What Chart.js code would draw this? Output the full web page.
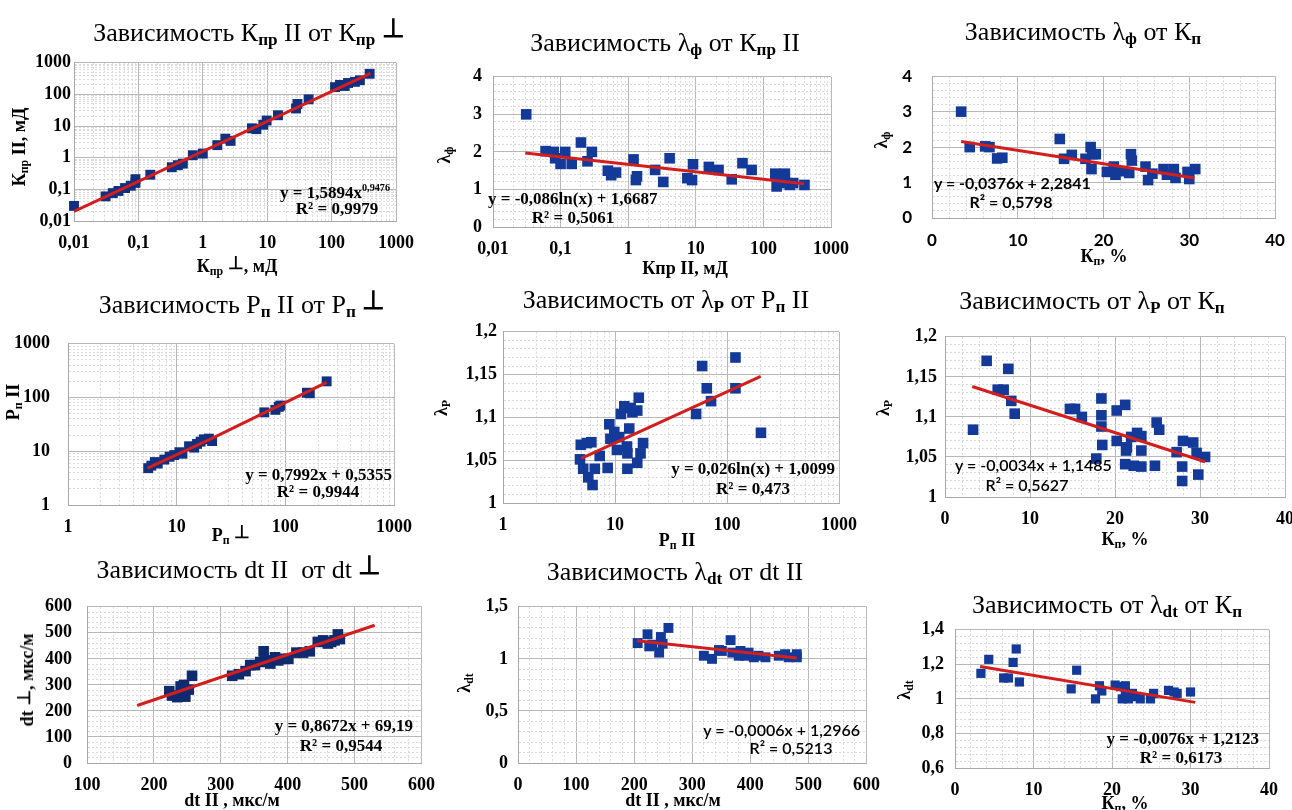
<!DOCTYPE html>
<html lang="ru">
<head>
<meta charset="utf-8">
<title>Зависимости</title>
<script src="https://cdn.jsdelivr.net/npm/chart.js@4.4.1/dist/chart.umd.min.js"></script>
<style>
    body { margin: 0; background: #fff; overflow: hidden; }
    #wrap { position: relative; width: 1292px; height: 810px; overflow: hidden; background: #fff; }
    .cbox { position: absolute; }
    .lbl { position: absolute; white-space: nowrap; color: #000; line-height: 1;
           font-family: "Liberation Serif", "Times New Roman", serif; }
    .title { font-size: 26px; }
    .title sub { font-weight: bold; }
    .ax { font-size: 18px; font-weight: bold; }
    .eq { font-size: 17px; font-weight: bold; }
    .sans { font-family: Lato, "Open Sans", sans-serif; font-size: 16px; }
    .med { font-weight: 600; }
    sub { font-size: 66%; vertical-align: -0.25em; }
    sup { font-size: 60%; vertical-align: 0.6em; }
    .tack { font-weight: bold; position: relative; top: -0.15em; }
</style>
</head>
<body>
<div id="wrap"></div>
<script>
// --- DATA ---

// 1. Кпр II от Кпр ⊥ (log-log)
const p1XTicks = [0.01, 0.1, 1, 10, 100, 1000];
const p1YTicks = [0.01, 0.1, 1, 10, 100, 1000];
const p1X = [0.01, 0.031, 0.04, 0.049, 0.062, 0.076, 0.09, 0.09, 0.153, 0.33, 0.41, 0.49, 0.7, 1.0, 1.68, 2.24, 2.7, 5.8, 6.8, 8.7, 9.8, 14.7, 28, 29.5, 44, 113, 135, 160, 180, 230, 275, 390];
const p1Y = [0.03, 0.06, 0.076, 0.089, 0.11, 0.13, 0.16, 0.21, 0.29, 0.5, 0.58, 0.65, 1.2, 1.35, 2.5, 4.0, 3.4, 8.5, 8.0, 11, 15, 22, 36, 50, 70, 170, 200, 185, 230, 250, 280, 450];
const p1TrendX = [0.01, 400];
const p1TrendY = [0.02, 464];

// 2. λф от Кпр II (log x)
const p2XTicks = [0.01, 0.1, 1, 10, 100, 1000];
const p2YTicks = [0, 1, 2, 3, 4];
const p2X = [0.031, 0.06, 0.079, 0.083, 0.1, 0.117, 0.146, 0.2, 0.25, 0.29, 0.5, 0.56, 0.66, 1.2, 1.3, 1.35, 2.5, 3.3, 4.1, 7.5, 8.8, 9.1, 15.6, 21.7, 34, 49, 67, 150, 157, 175, 208, 220, 246, 276, 405];
const p2Y = [3.0, 2.02, 2.0, 1.83, 1.68, 2.0, 1.68, 2.25, 1.75, 2.0, 1.5, 1.38, 1.45, 1.8, 1.25, 1.35, 1.52, 1.2, 1.83, 1.3, 1.25, 1.67, 1.6, 1.52, 1.27, 1.7, 1.52, 1.42, 1.08, 1.3, 1.42, 1.17, 1.12, 1.17, 1.12];
const p2TrendX = [0.03, 400];
const p2TrendY = [1.97, 1.15];

// 3. λф от Кп
const p3XTicks = [0, 10, 20, 30, 40];
const p3YTicks = [0, 1, 2, 3, 4];
const p3X = [3.4, 4.4, 6.2, 6.7, 7.6, 8.2, 14.9, 15.4, 16.3, 17.9, 18.5, 18.7, 18.6, 19.1, 20.4, 21.2, 21.4, 22.2, 23.2, 23.3, 23.0, 24.9, 25.2, 25.7, 27.0, 27.4, 28.2, 28.4, 29.8, 30.0, 30.7];
const p3Y = [3.0, 2.0, 2.02, 2.0, 1.68, 1.7, 2.23, 1.67, 1.78, 1.67, 2.0, 1.8, 1.38, 1.8, 1.3, 1.45, 1.22, 1.32, 1.8, 1.62, 1.27, 1.45, 1.07, 1.25, 1.38, 1.22, 1.38, 1.13, 1.3, 1.1, 1.38];
const p3TrendX = [3.4, 30.6];
const p3TrendY = [2.16, 1.13];

// 4. Pп II от Pп ⊥ (log-log)
const p4XTicks = [1, 10, 100, 1000];
const p4YTicks = [1, 10, 100, 1000];
const p4X = [5.47, 5.85, 6.3, 6.7, 7.7, 8.6, 9.5, 10.6, 11.3, 13.0, 14.5, 15.4, 16.6, 17.8, 19.8, 21.2, 64, 81, 87, 90, 158, 168, 240];
const p4Y = [4.85, 5.4, 6.3, 5.9, 7.0, 7.9, 8.5, 9.6, 9.0, 12.4, 11.7, 13.7, 15.1, 16.7, 17.2, 15.5, 53, 59, 67, 71, 123, 120, 200];
const p4TrendX = [5.4, 20, 240];
const p4TrendY = [4.85, 16.5, 192];

// 5. λp от Pп II (log x)
const p5XTicks = [1, 10, 100, 1000];
const p5YTicks = [1, 1.05, 1.1, 1.15, 1.2];
const p5X = [4.87, 4.95, 5.6, 6.15, 5.2, 5.77, 6.3, 6.6, 7.3, 8.6, 8.9, 9.1, 9.85, 10.4, 10.9, 11.3, 12.1, 12.8, 12.9, 13.4, 13.8, 14.3, 12.9, 15.8, 15.8, 16.3, 16.9, 17.8, 53, 60, 66, 72, 119, 119, 201];
const p5Y = [1.051, 1.068, 1.07, 1.071, 1.04, 1.03, 1.021, 1.04, 1.055, 1.041, 1.092, 1.075, 1.083, 1.062, 1.077, 1.104, 1.113, 1.066, 1.058, 1.087, 1.111, 1.106, 1.04, 1.108, 1.047, 1.123, 1.058, 1.07, 1.104, 1.16, 1.134, 1.119, 1.17, 1.134, 1.082];
const p5TrendX = [5, 200];
const p5TrendY = [1.052, 1.148];

// 6. λp от Кп
const p6XTicks = [0, 10, 20, 30, 40];
const p6YTicks = [1, 1.05, 1.1, 1.15, 1.2];
const p6X = [3.3, 4.9, 6.2, 6.9, 7.45, 7.8, 8.2, 14.7, 15.3, 16.1, 17.8, 18.4, 18.4, 18.4, 18.5, 20.2, 20.2, 21.2, 21.3, 21.4, 21.2, 21.9, 22.6, 23.1, 23.1, 22.2, 23.1, 24.9, 25.2, 24.7, 27.25, 28.0, 27.9, 27.9, 29.2, 29.6, 29.8, 30.6];
const p6Y = [1.084, 1.17, 1.134, 1.134, 1.16, 1.12, 1.104, 1.11, 1.11, 1.1, 1.048, 1.123, 1.102, 1.088, 1.065, 1.108, 1.07, 1.115, 1.058, 1.062, 1.041, 1.075, 1.08, 1.076, 1.058, 1.039, 1.038, 1.093, 1.084, 1.039, 1.056, 1.07, 1.038, 1.02, 1.068, 1.055, 1.028, 1.05];
const p6TrendX = [3.2, 30.6];
const p6TrendY = [1.138, 1.044];

// 7. dt II от dt ⊥
const p7XTicks = [100, 200, 300, 400, 500, 600];
const p7YTicks = [0, 100, 200, 300, 400, 500, 600];
const p7X = [223, 227, 235, 240, 243, 247, 252, 257, 245, 317, 327, 337, 344, 351, 359, 364, 366, 374, 381, 386, 394, 401, 413, 423, 433, 445, 453, 460, 465, 470, 475, 478];
const p7Y = [276, 259, 253, 294, 265, 255, 282, 335, 300, 335, 341, 353, 376, 376, 388, 429, 394, 382, 406, 394, 400, 400, 424, 424, 429, 465, 471, 459, 465, 471, 494, 476];
const p7TrendX = [175, 530];
const p7TrendY = [221, 529];

// 8. λdt от dt II
const p8XTicks = [0, 100, 200, 300, 400, 500, 600];
const p8YTicks = [0, 0.5, 1, 1.5];
const p8X = [206, 223, 226, 231, 243, 246, 249, 259, 320, 334, 346, 351, 366, 369, 380, 383, 391, 397, 406, 414, 426, 449, 460, 466, 480, 480];
const p8Y = [1.152, 1.236, 1.12, 1.136, 1.06, 1.21, 1.145, 1.297, 1.03, 1.0, 1.085, 1.076, 1.18, 1.06, 1.03, 1.076, 1.03, 1.06, 1.015, 1.03, 1.015, 1.03, 1.045, 1.015, 1.045, 1.015];
const p8TrendX = [205, 480];
const p8TrendY = [1.174, 1.009];

// 9. λdt от Кп
const p9XTicks = [0, 10, 20, 30, 40];
const p9YTicks = [0.6, 0.8, 1, 1.2, 1.4];
const p9X = [3.3, 4.3, 6.2, 6.8, 7.4, 7.8, 8.2, 14.8, 15.5, 17.9, 18.4, 18.7, 20.4, 21.1, 21.3, 21.7, 21.7, 22.1, 22.6, 23, 23.6, 24.9, 25.3, 27.2, 27.9, 28.3, 30.0];
const p9Y = [1.148, 1.229, 1.121, 1.121, 1.211, 1.289, 1.098, 1.058, 1.166, 1.0, 1.076, 1.046, 1.08, 1.071, 1.0, 1.076, 1.037, 1.0, 1.032, 1.013, 1.0, 1.0, 1.032, 1.049, 1.04, 1.032, 1.04];
const p9TrendX = [3.2, 30.6];
const p9TrendY = [1.188, 0.98];

// --- Layout constants ---
const SERIF = '"Liberation Serif", "Times New Roman", serif';
const SANS = 'Lato, "Open Sans", sans-serif';
const YW = 60, XH = 40, PT = 12, PR = 24;
const wrap = document.getElementById('wrap');

// panel: plot rect [left, top, right, bottom], axes, data, tick font, marker colour
const panels = [
    { rect: [74, 61, 402, 221], x: { log: true, ticks: p1XTicks }, y: { log: true, ticks: p1YTicks }, xs: p1X, ys: p1Y, tx: p1TrendX, ty: p1TrendY, ypad: 3, font: SERIF, fs: 18, mark: '#123080', r: 7 },
    { rect: [493, 67, 837, 227], x: { log: true, ticks: p2XTicks }, y: { ticks: p2YTicks }, xs: p2X, ys: p2Y, tx: p2TrendX, ty: p2TrendY, ypad: 11, font: SERIF, fs: 18, mark: '#133a98', r: 7.5 },
    { rect: [932, 58, 1275, 218], x: { ticks: p3XTicks }, y: { ticks: p3YTicks }, xs: p3X, ys: p3Y, tx: p3TrendX, ty: p3TrendY, ypad: 20, font: SANS, fs: 17, mark: '#133a98', r: 7.5 },
    { rect: [68, 327, 400, 505], x: { log: true, ticks: p4XTicks }, y: { log: true, ticks: p4YTicks }, xs: p4X, ys: p4Y, tx: p4TrendX, ty: p4TrendY, ypad: 18, font: SERIF, fs: 18, mark: '#123080', r: 7 },
    { rect: [503, 327, 845, 503], x: { log: true, ticks: p5XTicks }, y: { ticks: p5YTicks }, xs: p5X, ys: p5Y, tx: p5TrendX, ty: p5TrendY, ypad: 6, font: SERIF, fs: 18, mark: '#133a98', r: 7.5 },
    { rect: [945, 330, 1285, 497], x: { ticks: p6XTicks }, y: { ticks: p6YTicks }, xs: p6X, ys: p6Y, tx: p6TrendX, ty: p6TrendY, ypad: 8, font: SERIF, fs: 18, mark: '#133a98', r: 7.5 },
    { rect: [87, 593, 423, 763], x: { ticks: p7XTicks }, y: { ticks: p7YTicks }, xs: p7X, ys: p7Y, tx: p7TrendX, ty: p7TrendY, ypad: 15, font: SERIF, fs: 18, mark: '#102a70', r: 7.5 },
    { rect: [518, 598, 868, 763], x: { ticks: p8XTicks }, y: { ticks: p8YTicks }, xs: p8X, ys: p8Y, tx: p8TrendX, ty: p8TrendY, ypad: 10, font: SERIF, fs: 18, mark: '#133a98', r: 7 },
    { rect: [955, 620, 1269, 768], x: { ticks: p9XTicks }, y: { ticks: p9YTicks }, xs: p9X, ys: p9Y, tx: p9TrendX, ty: p9TrendY, ypad: 11, font: SERIF, fs: 18, mark: '#133a98', r: 6.5 }
];

// texts: [html, x, y, class, align]   align: l / c / r / v (vertical, centred)
const T = '<span class="tack">⊥</span>';
const texts = [
    ['Зависимость К<sub>пр</sub> II от К<sub>пр</sub> ' + T, 249, 34, 'title', 'c'],
    ['Зависимость λ<sub>ф</sub> от К<sub>пр</sub> II', 665, 44, 'title', 'c'],
    ['Зависимость λ<sub>ф</sub> от К<sub>п</sub>', 1083, 33, 'title', 'c'],
    ['Зависимость P<sub>п</sub> II от P<sub>п</sub> ' + T, 242, 306, 'title', 'c'],
    ['Зависимость от λ<sub>P</sub> от P<sub>п</sub> II', 666, 301, 'title', 'c'],
    ['Зависимость от λ<sub>P</sub> от К<sub>п</sub>', 1092, 302, 'title', 'c'],
    ['Зависимость dt II&nbsp; от dt ' + T, 239, 570, 'title', 'c'],
    ['Зависимость λ<sub>dt</sub> от dt II', 675, 573, 'title', 'c'],
    ['Зависимость от λ<sub>dt</sub> от К<sub>п</sub>', 1107, 606, 'title', 'c'],

    ['К<sub>пр</sub> ' + T + ', мД', 237, 267, 'ax', 'c'],
    ['Кпр II, мД', 685, 268, 'ax', 'c'],
    ['К<sub>п</sub>, %', 1104, 257, 'ax', 'c'],
    ['P<sub>п</sub> ' + T, 231, 536, 'ax', 'c'],
    ['P<sub>п</sub> II', 677, 541, 'ax', 'c'],
    ['К<sub>п</sub>, %', 1125, 540, 'ax', 'c'],
    ['dt II , мкс/м', 232, 800, 'ax', 'c'],
    ['dt II , мкс/м', 673, 800, 'ax', 'c'],
    ['К<sub>п</sub>, %', 1125, 804, 'ax', 'c'],

    ['К<sub>пр</sub> II, мД', 20, 147, 'ax', 'v'],
    ['λ<sub>ф</sub>', 445, 155, 'ax', 'v'],
    ['λ<sub>ф</sub>', 882, 140, 'ax', 'v'],
    ['P<sub>п</sub> II', 14, 402, 'ax', 'v'],
    ['λ<sub>P</sub>', 442, 408, 'ax', 'v'],
    ['λ<sub>P</sub>', 884, 408, 'ax', 'v'],
    ['dt ' + T + ', мкс/м', 27, 680, 'ax', 'v'],
    ['λ<sub>dt</sub>', 465, 683, 'ax', 'v'],
    ['λ<sub>dt</sub>', 905, 690, 'ax', 'v'],

    ['y = 1,5894x<sup>0,9476</sup>', 390, 192, 'eq', 'r'],
    ['R² = 0,9979', 337, 208, 'eq', 'c'],
    ['y = -0,086ln(x) + 1,6687', 488, 198, 'eq', 'l'],
    ['R² = 0,5061', 573, 217, 'eq', 'c'],
    ['y = -0,0376x + 2,2841', 934, 183, 'eq sans', 'l'],
    ['R² = 0,5798', 1011, 202, 'eq sans', 'c'],
    ['y = 0,7992x + 0,5355', 392, 474, 'eq', 'r'],
    ['R² = 0,9944', 318, 491, 'eq', 'c'],
    ['y = 0,026ln(x) + 1,0099', 835, 468, 'eq', 'r'],
    ['R² = 0,473', 753, 488, 'eq', 'c'],
    ['y = -0,0034x + 1,1485', 955, 465, 'eq sans med', 'l'],
    ['R² = 0,5627', 1027, 485, 'eq sans med', 'c'],
    ['y = 0,8672x + 69,19', 413, 725, 'eq', 'r'],
    ['R² = 0,9544', 341, 745, 'eq', 'c'],
    ['y = -0,0006x + 1,2966', 860, 730, 'eq sans med', 'r'],
    ['R² = 0,5213', 791, 748, 'eq sans med', 'c'],
    ['y = -0,0076x + 1,2123', 1259, 738, 'eq', 'r'],
    ['R² = 0,6173', 1181, 757, 'eq', 'c']
];

// --- Helpers ---
const fmt = v => String(Number(v.toPrecision(6))).replace('.', ',');

function gridValues(spec) {
    const t = spec.ticks, out = [];
    if (spec.log) {
        for (let i = 0; i < t.length - 1; i++)
            for (let k = 1; k <= 9; k++) out.push(Number((k * t[i]).toPrecision(6)));
    } else {
        const step = (t[1] - t[0]) / 5;
        for (let i = 0; i < (t.length - 1) * 5; i++) out.push(Number((t[0] + i * step).toPrecision(6)));
    }
    out.push(t[t.length - 1]);
    return out;
}

function makeAxis(spec, isY, pad, font, size) {
    const majors = spec.ticks;
    const all = gridValues(spec);
    const isMajor = v => majors.some(m => Math.abs(v - m) <= Math.abs(m) * 1e-6 + 1e-9);
    const minor = c => c.tick && !isMajor(c.tick.value);
    return {
        type: spec.log ? 'logarithmic' : 'linear',
        min: majors[0],
        max: majors[majors.length - 1],
        afterBuildTicks: s => { s.ticks = all.map(v => ({ value: v })); },
        afterFit: s => { if (isY) s.width = YW; else s.height = XH; },
        ticks: {
            autoSkip: false, maxRotation: 0, minRotation: 0, padding: pad, color: '#000',
            font: { family: font, size: size, weight: 'bold' },
            callback: v => isMajor(v) ? fmt(v) : ''
        },
        grid: { drawTicks: false, lineWidth: 1, color: c => minor(c) ? '#dadada' : '#b8b8b8' },
        border: { display: true, color: '#a8a8a8', width: 1, dash: c => minor(c) ? [2, 2] : [] }
    };
}

function makeChart(p) {
    const [l, t, r, b] = p.rect;
    const w = r - l + YW + PR, h = b - t + PT + XH;
    const box = document.createElement('div');
    box.className = 'cbox';
    box.style.left = (l - YW) + 'px';
    box.style.top = (t - PT) + 'px';
    const cv = document.createElement('canvas');
    cv.width = w; cv.height = h;
    box.appendChild(cv);
    wrap.appendChild(box);

    new Chart(cv, {
        type: 'scatter',
        data: {
            datasets: [
                {
                    type: 'line',
                    data: p.tx.map((x, i) => ({ x, y: p.ty[i] })),
                    borderColor: '#d41e1e', borderWidth: 3, pointRadius: 0, fill: false, tension: 0
                },
                {
                    data: p.xs.map((x, i) => ({ x, y: p.ys[i] })),
                    pointStyle: 'rect', pointRadius: p.r, backgroundColor: p.mark, borderColor: p.mark,
                    borderWidth: 0, clip: false
                }
            ]
        },
        options: {
            responsive: false, animation: false, events: [],
            layout: { padding: { top: PT, right: PR, left: 0, bottom: 0 } },
            plugins: { legend: { display: false }, tooltip: { enabled: false } },
            scales: {
                x: makeAxis(p.x, false, 12, p.font, p.fs),
                y: makeAxis(p.y, true, p.ypad, p.font, p.fs)
            }
        }
    });
}

function placeText([html, x, y, cls, align]) {
    const d = document.createElement('div');
    d.className = 'lbl ' + cls;
    d.innerHTML = html;
    d.style.left = x + 'px';
    d.style.top = y + 'px';
    const tr = { l: 'translate(0,-50%)', c: 'translate(-50%,-50%)', r: 'translate(-100%,-50%)', v: 'translate(-50%,-50%) rotate(-90deg)' };
    d.style.transform = tr[align];
    wrap.appendChild(d);
}

// --- Render ---
panels.forEach(makeChart);
texts.forEach(placeText);
</script>
</body>
</html>
